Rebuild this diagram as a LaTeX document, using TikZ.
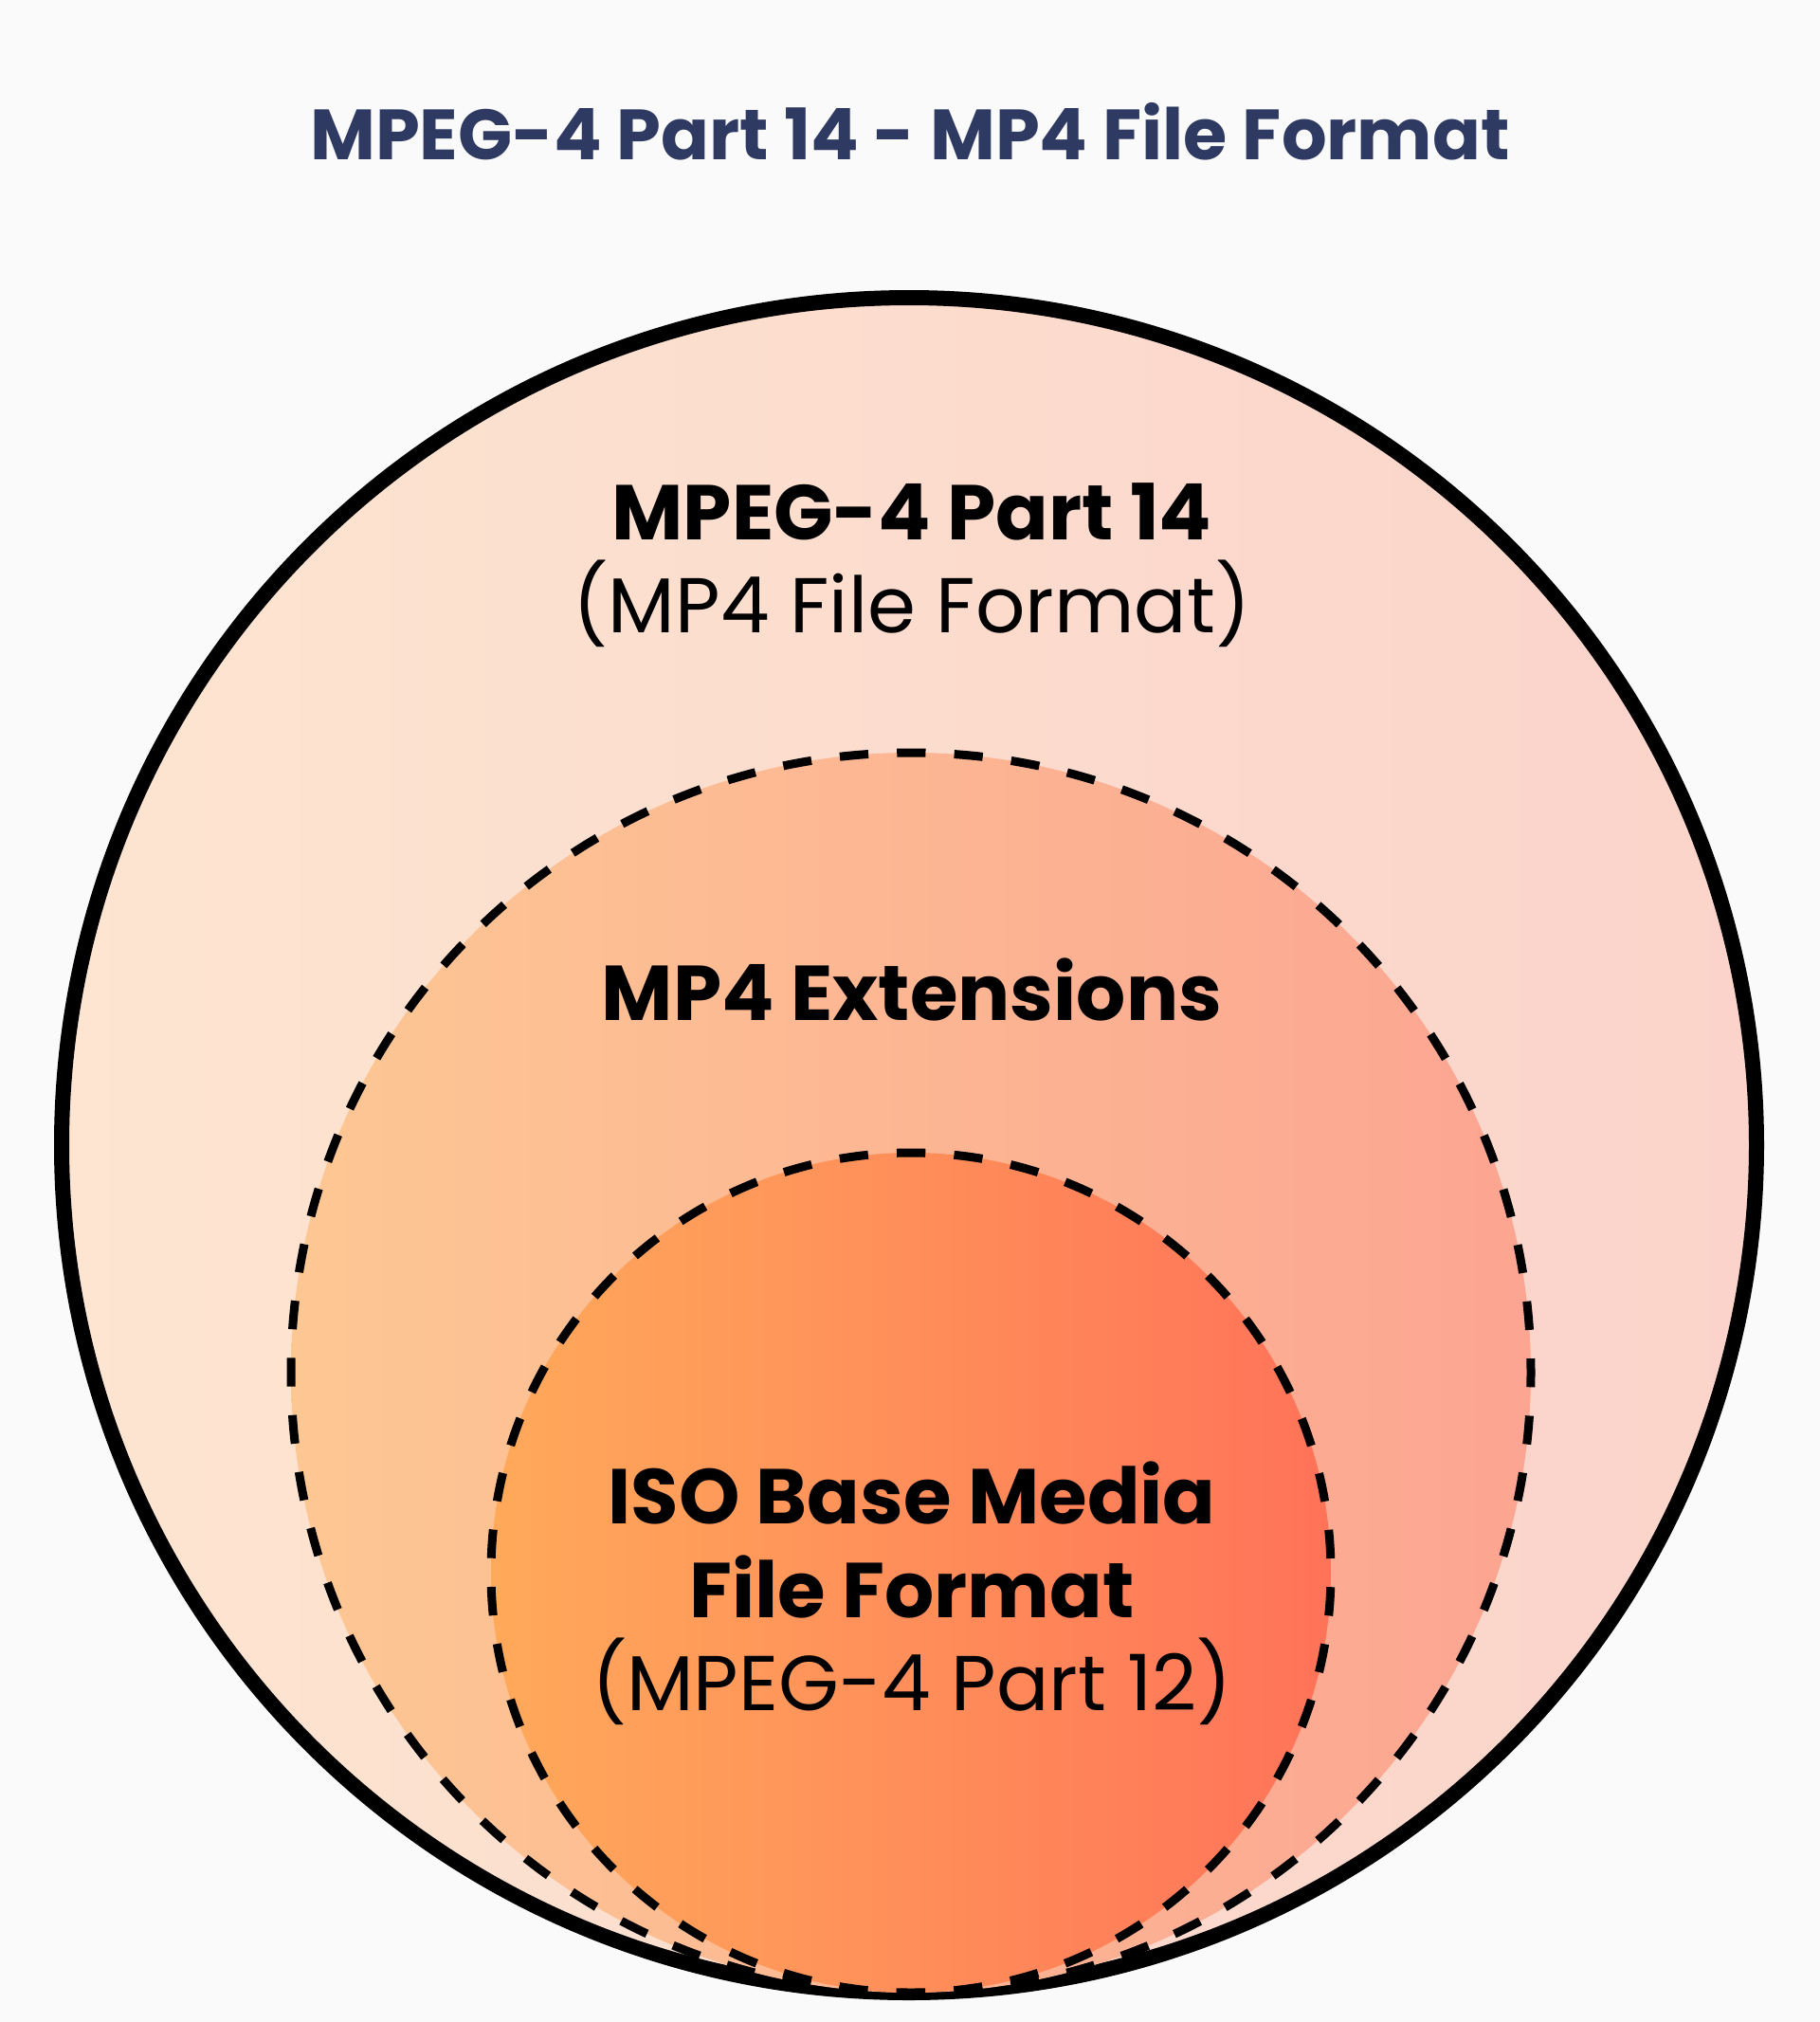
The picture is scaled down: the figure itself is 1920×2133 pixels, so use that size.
\documentclass[tikz,border=0pt]{standalone}
\usepackage{fontspec}
\setmainfont{Poppins}
\definecolor{bg}{HTML}{FAFAFA}
\definecolor{titlecol}{HTML}{2F3A63}
\definecolor{outL}{HTML}{FDE5D1}
\definecolor{outR}{HTML}{FBD3CA}
\definecolor{midL}{HTML}{FDC793}
\definecolor{midR}{HTML}{FCA592}
\definecolor{inL}{HTML}{FFA95A}
\definecolor{inR}{HTML}{FF7359}
\tikzset{
  ringsolid/.style={line width=8pt, draw=black},
  middash/.style={line width=4.5pt, draw=black, dash pattern=on 15.107pt off 15.107pt, dash phase=7.553pt},
  indash/.style={line width=4.5pt, draw=black, dash pattern=on 15.128pt off 15.128pt, dash phase=7.564pt},
  lblbold/.style={anchor=base, font=\fontsize{41}{49}\selectfont\bfseries, text=black, inner sep=0pt},
  lblreg/.style={anchor=base, font=\fontsize{41}{49}\selectfont, text=black, inner sep=0pt},
}
\begin{document}
\begin{tikzpicture}[x=0.5pt,y=0.5pt]
\fill[bg] (0,0) rectangle (1920,-2133);
\useasboundingbox (0,0) rectangle (1920,-2133);
% outer circle
\shade[left color=outL, right color=outR] (959,-1208) circle (894);
\draw[ringsolid] (959,-1208) circle (894);
% middle circle
\shade[left color=midL, right color=midR] (961,-1448) circle (654);
\draw[middash] (961,-2102) arc (-90:270:654);
% inner circle
\shade[left color=inL, right color=inR] (961,-1659) circle (443);
\draw[indash] (961,-2102) arc (-90:270:443);
% texts
\node[anchor=base, font=\fontsize{37.5}{45}\selectfont\bfseries, text=titlecol, inner sep=0pt] (title) at (960,-168) {MPEG-4 Part 14 - MP4 File Format};
\node[lblbold] (p14) at (962,-569) {MPEG-4 Part 14};
\node[lblreg] (p14sub) at (962,-667) {(MP4 File Format)};
\node[lblbold] (ext) at (962,-1076) {MP4 Extensions};
\node[lblbold] (iso1) at (962,-1607) {ISO Base Media};
\node[lblbold] (iso2) at (962,-1706) {File Format};
\node[lblreg] (iso3) at (962,-1804) {(MPEG-4 Part 12)};
\end{tikzpicture}
\end{document}
